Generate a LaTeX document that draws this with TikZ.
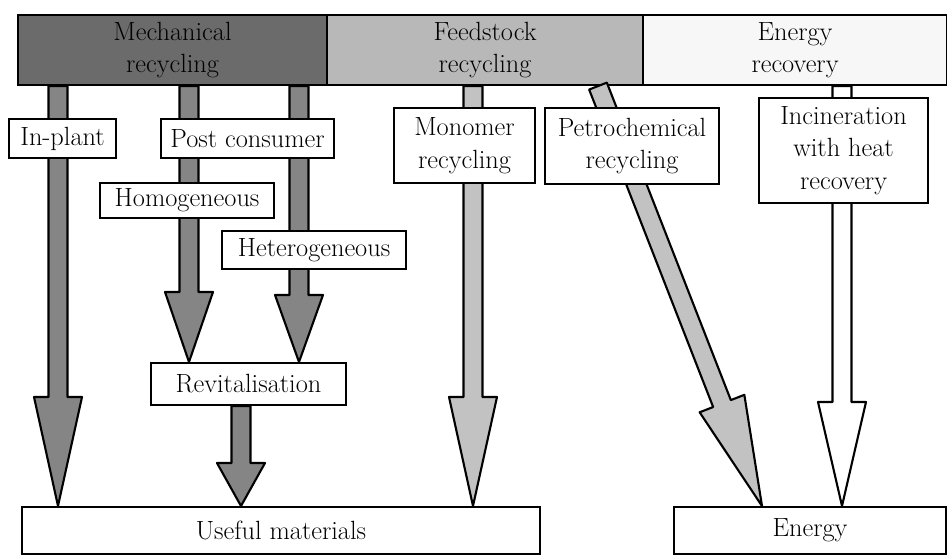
\documentclass[tikz,border=0pt]{standalone}
\usepackage{tikz}
\usetikzlibrary{positioning,calc}

\definecolor{mechgray}{gray}{0.42}
\definecolor{feedgray}{gray}{0.72}
\definecolor{enrecgray}{gray}{0.97}
\definecolor{mecharrow}{gray}{0.52}
\definecolor{feedarrow}{gray}{0.76}

\tikzset{
    box/.style={draw, line width=1.2pt, fill=white, align=center, inner sep=0pt,
        font=\fontsize{15}{18.5}\selectfont, anchor=north west},
    headbox/.style={box, minimum height=1.40cm},
    arrowline/.style={draw, line width=1.2pt, line join=round}
}

% fat arrow: #1 fill, #2 start, #3 tip, #4 head length
\newcommand{\fatarrow}[4]{%
    \path ($(#3)!#4!(#2)$) coordinate (h);
    \draw[arrowline, fill=#1] ($(#2)!0.19cm!90:(#3)$) -- ($(h)!0.19cm!-90:(#2)$)
        -- ($(h)!0.48cm!-90:(#2)$) -- (#3) -- ($(h)!0.48cm!90:(#2)$)
        -- ($(h)!0.19cm!90:(#2)$) -- ($(#2)!0.19cm!-90:(#3)$) -- cycle;
}

\begin{document}
\begin{tikzpicture}[x=0.02cm, y=-0.02cm]
    \useasboundingbox (0,0) rectangle (947,557);

    % Top bar
    \node[headbox, fill=mechgray, minimum width=6.18cm] (mech) at (17,14) {Mechanical\\recycling};
    \node[headbox, fill=feedgray, minimum width=6.32cm] (feed) at (326,14) {Feedstock\\recycling};
    \node[headbox, fill=enrecgray, minimum width=6.08cm] (enrec) at (642,14) {Energy\\recovery};

    % Results
    \node[box, minimum width=10.36cm, minimum height=0.94cm] (useful) at (21,506) {Useful materials};
    \node[box, minimum width=5.44cm, minimum height=0.94cm] (energy) at (673,506) {Energy};
    \node[box, minimum width=3.90cm, minimum height=0.84cm] (revital) at (150,362) {Revitalisation};

    % Arrow ends
    \coordinate (inS) at ($(mech.south west)+(41,0)$);
    \coordinate (inE) at (inS |- useful.north);
    \coordinate (homS) at ($(mech.south west)+(172,0)$);
    \coordinate (homE) at (homS |- revital.north);
    \coordinate (hetS) at ($(mech.south west)+(282,0)$);
    \coordinate (hetE) at (hetS |- revital.north);
    \coordinate (revS) at ($(revital.south west)+(91,0)$);
    \coordinate (revE) at (revS |- useful.north);
    \coordinate (monS) at ($(feed.south west)+(147,0)$);
    \coordinate (monE) at (monS |- useful.north);
    \coordinate (petS) at ($(feed.south west)+(272,0)$);
    \coordinate (petE) at ($(energy.north west)+(89,0)$);
    \coordinate (incS) at ($(enrec.south west)+(200,0)$);
    \coordinate (incE) at (incS |- energy.north);

    % Arrows
    \fatarrow{mecharrow}{inS}{inE}{2.18cm}
    \fatarrow{mecharrow}{homS}{homE}{1.40cm}
    \fatarrow{mecharrow}{hetS}{hetE}{1.34cm}
    \fatarrow{mecharrow}{revS}{revE}{0.86cm}
    \fatarrow{feedarrow}{monS}{monE}{2.18cm}
    \fatarrow{feedarrow}{petS}{petE}{2.20cm}
    \fatarrow{white}{incS}{incE}{2.08cm}

    % Routes
    \node[box, minimum width=2.14cm, minimum height=0.78cm] (inplant) at (8,118) {In-plant};
    \node[box, minimum width=3.46cm, minimum height=0.78cm] (postcons) at (160,118) {Post consumer};
    \node[box, minimum width=3.48cm, minimum height=0.70cm] (homog) at (99,182) {Homogeneous};
    \node[box, minimum width=3.68cm, minimum height=0.76cm] (heterog) at (221,230) {Heterogeneous};
    \node[box, minimum width=2.82cm, minimum height=1.50cm] (monomer) at (393,107) {Monomer\\recycling};
    \node[box, minimum width=3.48cm, minimum height=1.52cm] (petro) at (544,107) {Petrochemical\\recycling};
    \node[box, minimum width=3.38cm, minimum height=2.10cm] (incin) at (758,97) {Incineration\\with heat\\recovery};

\end{tikzpicture}
\end{document}
